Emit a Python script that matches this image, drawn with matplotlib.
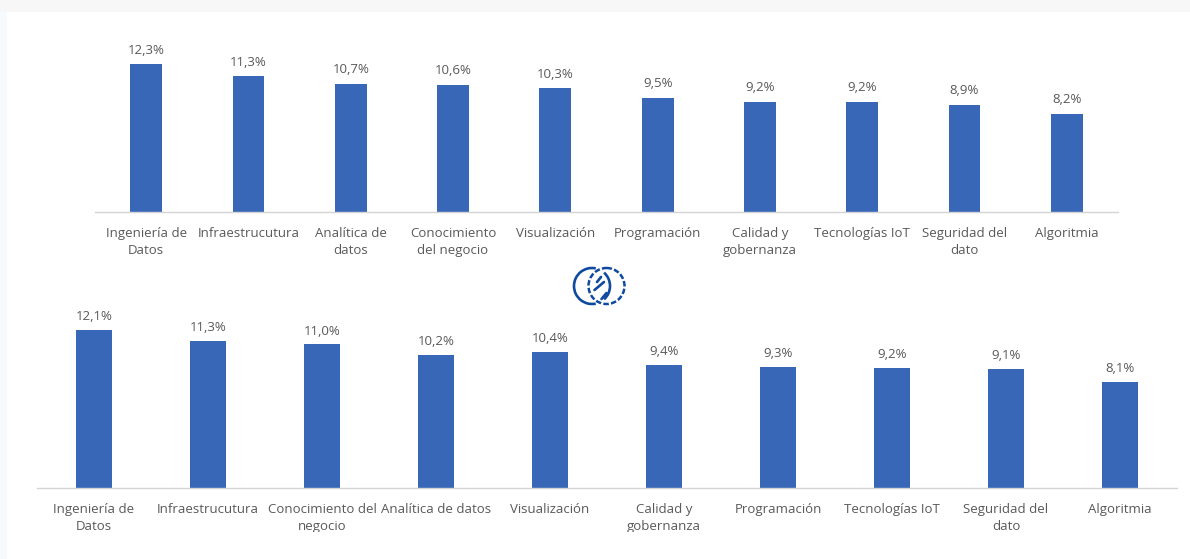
import matplotlib
matplotlib.use('Agg')
import matplotlib.pyplot as plt
from matplotlib.patches import Circle, Rectangle, Arc
from matplotlib.transforms import Bbox

W, H = 1190, 559

top_labels = ['Ingeniería de\nDatos', 'Infraestrucutura', 'Analítica de\ndatos',
              'Conocimiento\ndel negocio', 'Visualización', 'Programación',
              'Calidad y\ngobernanza', 'Tecnologías IoT', 'Seguridad del\ndato', 'Algoritmia']
top_values = [12.3, 11.3, 10.7, 10.6, 10.3, 9.5, 9.2, 9.2, 8.9, 8.2]

bottom_labels = ['Ingeniería de\nDatos', 'Infraestrucutura', 'Conocimiento del\nnegocio',
                 'Analítica de datos', 'Visualización', 'Calidad y\ngobernanza', 'Programación',
                 'Tecnologías IoT', 'Seguridad del\ndato', 'Algoritmia']
bottom_values = [12.1, 11.3, 11.0, 10.2, 10.4, 9.4, 9.3, 9.2, 9.1, 8.1]

BLUE = '#3867b7'
GREY = '#595959'
LOGO = '#0f4a9e'

plt.rcParams['font.family'] = ['Open Sans', 'DejaVu Sans']


def px_axes(fig, left, right, top, bottom):
    # axes position given in image pixels
    return fig.add_axes([left / W, 1 - bottom / H, (right - left) / W, (bottom - top) / H])


def draw_bars(ax, labels, values, width, ymax, font, label_gap, clip=None):
    x = list(range(len(values)))
    bars = ax.bar(x, values, width=width, color=BLUE)
    ax.set_xlim(-0.5, len(values) - 0.5)
    ax.set_ylim(0, ymax)
    ax.patch.set_alpha(0)
    for s in ['top', 'left', 'right']:
        ax.spines[s].set_visible(False)
    ax.spines['bottom'].set_color('#d4d4d4')
    ax.spines['bottom'].set_linewidth(1.0)
    ax.set_yticks([])
    ax.set_xticks(x)
    ax.set_xticklabels(labels, fontsize=font, color=GREY, linespacing=1.42)
    ax.tick_params(axis='x', length=0, pad=10.7)
    for b, v in zip(bars, values):
        ax.annotate(f'{v:.1f}%'.replace('.', ','), (b.get_x() + b.get_width() / 2, v),
                    xytext=(0, label_gap), textcoords='offset points', ha='center', va='bottom',
                    fontsize=font, color=GREY)
    if clip is not None:
        for t in ax.get_xticklabels():
            t.set_clip_box(clip)
            t.set_clip_on(True)


fig = plt.figure(figsize=(W / 100, H / 100), dpi=100, facecolor='#f7f7f7')

# page background behind the charts
bg = fig.add_axes([0, 0, 1, 1])
bg.set_xlim(0, W)
bg.set_ylim(H, 0)
bg.axis('off')
bg.add_patch(Rectangle((0, 12), 7, H - 12, color='#f6fafd', lw=0))
bg.add_patch(Rectangle((7, 12), W - 7, H - 12, color='white', lw=0))

# logo between the two charts
bg.add_patch(Arc((592, 286), 36, 36, theta1=78, theta2=282, color=LOGO, lw=1.9))
bg.add_patch(Arc((592, 286), 36, 36, theta1=-48, theta2=48, color=LOGO, lw=1.9))
bg.add_patch(Circle((606.5, 286), 18, fill=False, ec=LOGO, lw=1.8, ls=(0, (2.2, 0.9))))
for x0, y0, x1, y1 in [(597, 282, 601, 277), (594.5, 290, 604, 282), (601.5, 299, 606.5, 293)]:
    bg.plot([x0, x1], [y0, y1], color=LOGO, lw=1.9, solid_capstyle='round')

ax_top = px_axes(fig, 95, 1118, 20, 212)
draw_bars(ax_top, top_labels, top_values, 0.31, 192 / 12.0, 9.5, 5.6)

ax_bottom = px_axes(fig, 37, 1177, 300, 488)
clip_box = Bbox([[0, H - 532], [W, H]])
draw_bars(ax_bottom, bottom_labels, bottom_values, 0.316, 188 / 13.05, 9.5, 5.0, clip=clip_box)

fig.savefig('out.png', dpi=100, facecolor=fig.get_facecolor())
